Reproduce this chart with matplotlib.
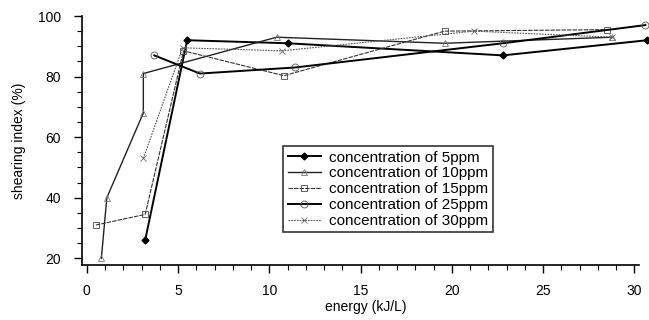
import numpy as np
import matplotlib
matplotlib.use("Agg")
import matplotlib.pyplot as plt
from matplotlib.ticker import MultipleLocator

plt.rcParams['font.family'] = ['Liberation Sans', 'DejaVu Sans']

# donnees
x_5 = [3.2, 5.5, 11.0, 22.8, 30.7]
y_5 = [26, 92, 91, 87, 92]

x_10 = [0.8, 1.1, 3.1, 3.1, 10.4, 19.6, 28.8]
y_10 = [20, 40, 68, 81, 93, 91, 93]

x_15 = [0.5, 3.2, 5.3, 10.8, 19.6, 28.5]
y_15 = [31, 34.5, 88.5, 80.3, 95, 95.5]

x_25 = [3.7, 6.2, 11.4, 22.8, 30.6]
y_25 = [87, 81, 83, 91, 97]

x_30 = [3.1, 5.25, 10.7, 21.2, 28.8]
y_30 = [53, 89.5, 88.5, 95, 93]

fig = plt.figure(figsize=(6.49, 3.2), dpi=100)
ax = fig.add_axes([82/649, 1 - 265/320, 1 - 82/649, (265 - 16)/320])

ax.plot(x_5, y_5, color='black', lw=1.4, marker='D', ms=3.5, mfc='black',
        label='concentration of 5ppm', clip_on=False)
ax.plot(x_10, y_10, color='#222222', lw=1.0, marker='^', ms=4.5, mfc='none',
        mec='#777777', mew=0.6, label='concentration of 10ppm', clip_on=False)
ax.plot(x_15, y_15, color='#333333', lw=0.8, ls=(0, (4, 1)), marker='s', ms=4.5,
        mfc='none', mec='#444444', mew=0.6, label='concentration of 15ppm', clip_on=False)
ax.plot(x_25, y_25, color='black', lw=1.4, marker='o', ms=5, mfc='none',
        mec='#555555', mew=0.6, label='concentration of 25ppm', clip_on=False)
ax.plot(x_30, y_30, color='#555555', lw=0.8, ls=(0, (1.5, 1)), marker='x', ms=5,
        mec='#666666', mew=0.6, label='concentration of 30ppm', clip_on=False)

ax.set_xlim(-0.26, 30.8)
ax.set_ylim(17.8, 100)
ax.spines['top'].set_visible(False)
ax.spines['right'].set_visible(False)
ax.spines['bottom'].set_bounds(-0.26, 30.25)
ax.spines['left'].set_linewidth(1.2)
ax.spines['bottom'].set_linewidth(1.2)

ax.xaxis.set_major_locator(MultipleLocator(5))
ax.xaxis.set_minor_locator(MultipleLocator(1))
ax.yaxis.set_major_locator(MultipleLocator(20))
ax.yaxis.set_minor_locator(MultipleLocator(5))
ax.tick_params(which='major', length=6, width=1, labelsize=10)
ax.tick_params(which='minor', length=3.5, width=0.8)
ax.tick_params(axis='x', which='major', pad=8)
ax.tick_params(axis='y', which='major', pad=9)

ax.set_xlabel('energy (kJ/L)', fontsize=10, labelpad=1)
ax.set_ylabel('shearing index (%)', fontsize=10, labelpad=9)

leg = ax.legend(loc='upper left', bbox_to_anchor=(283/649, 1 - 146/320),
                bbox_transform=fig.transFigure, fontsize=11, frameon=True,
                fancybox=False, edgecolor='black', borderaxespad=0,
                handlelength=2.2, handletextpad=0.5, labelspacing=0.12,
                borderpad=0.3)
leg.get_frame().set_linewidth(1.2)

fig.savefig('out.png', dpi=100)
